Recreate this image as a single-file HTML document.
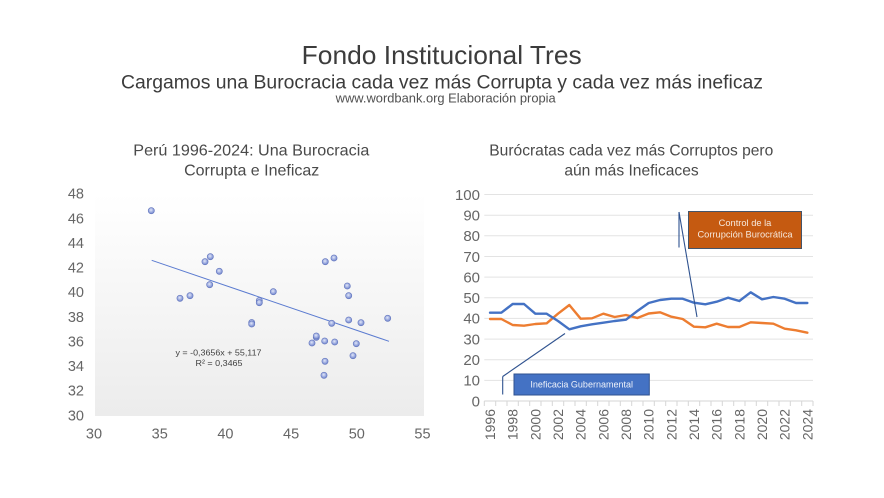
<!DOCTYPE html>
<html>
<head>
<meta charset="utf-8">
<style>
  html,body{margin:0;padding:0;background:#fff;}
  svg{display:block;}
  text{font-family:"Liberation Sans","DejaVu Sans",sans-serif;}
</style>
</head>
<body>
<svg width="884" height="498" viewBox="0 0 884 498" xmlns="http://www.w3.org/2000/svg">
  <defs>
    <linearGradient id="pa" x1="0" y1="0" x2="0" y2="1">
      <stop offset="0" stop-color="#ffffff"/>
      <stop offset="1" stop-color="#ececec"/>
    </linearGradient>
    <radialGradient id="mk" cx="0.45" cy="0.4" r="0.6">
      <stop offset="0" stop-color="#e3e8f8"/>
      <stop offset="0.6" stop-color="#9aa9df"/>
      <stop offset="1" stop-color="#6f84cb"/>
    </radialGradient>
  </defs>
  <rect x="0" y="0" width="884" height="498" fill="#ffffff"/>

  <!-- Titles -->
  <text x="441.7" y="64" font-size="26" fill="#3c3c3c" text-anchor="middle" textLength="280" lengthAdjust="spacingAndGlyphs">Fondo Institucional Tres</text>
  <text x="442" y="88.5" font-size="19" fill="#3c3c3c" text-anchor="middle" textLength="642" lengthAdjust="spacingAndGlyphs">Cargamos una Burocracia cada vez más Corrupta y cada vez más ineficaz</text>
  <text x="445.7" y="102.5" font-size="12.5" fill="#505050" text-anchor="middle" textLength="220" lengthAdjust="spacingAndGlyphs">www.wordbank.org Elaboración propia</text>

  <!-- LEFT CHART -->
  <text x="251.3" y="155.5" font-size="16" fill="#4a4a4a" text-anchor="middle" textLength="236" lengthAdjust="spacingAndGlyphs">Perú 1996-2024: Una Burocracia</text>
  <text x="251.7" y="175.5" font-size="16" fill="#4a4a4a" text-anchor="middle">Corrupta e Ineficaz</text>

  <rect x="95" y="194" width="329" height="222" fill="url(#pa)"/>

  <g font-size="14.5" fill="#666666" text-anchor="end">
    <text x="84" y="198.7">48</text>
    <text x="84" y="223.3">46</text>
    <text x="84" y="247.9">44</text>
    <text x="84" y="272.6">42</text>
    <text x="84" y="297.2">40</text>
    <text x="84" y="321.8">38</text>
    <text x="84" y="346.4">36</text>
    <text x="84" y="371.1">34</text>
    <text x="84" y="395.7">32</text>
    <text x="84" y="420.3">30</text>
  </g>
  <g font-size="14.5" fill="#666666" text-anchor="middle">
    <text x="94" y="438.5">30</text>
    <text x="159.7" y="438.5">35</text>
    <text x="225.4" y="438.5">40</text>
    <text x="291.1" y="438.5">45</text>
    <text x="356.8" y="438.5">50</text>
    <text x="422.5" y="438.5">55</text>
  </g>

  <!-- trendline -->
  <line x1="151.7" y1="260.3" x2="389" y2="341.3" stroke="#5b7bd0" stroke-width="1"/>

  <!-- scatter points -->
  <g fill="url(#mk)" stroke="#6477be" stroke-width="0.6">
    <circle cx="151.3" cy="210.7" r="3.1"/>
    <circle cx="180" cy="298.3" r="3.1"/>
    <circle cx="190" cy="295.7" r="3.1"/>
    <circle cx="205" cy="261.7" r="3.1"/>
    <circle cx="210.3" cy="256.7" r="3.1"/>
    <circle cx="209.7" cy="284.7" r="3.1"/>
    <circle cx="219.3" cy="271.3" r="3.1"/>
    <circle cx="251.7" cy="322.5" r="3.1"/>
    <circle cx="251.7" cy="324" r="3.1"/>
    <circle cx="259.3" cy="300.5" r="3.1"/>
    <circle cx="259.3" cy="302.7" r="3.1"/>
    <circle cx="273.3" cy="291.7" r="3.1"/>
    <circle cx="312" cy="343" r="3.1"/>
    <circle cx="316.3" cy="337.3" r="3.1"/>
    <circle cx="316.3" cy="336" r="3.1"/>
    <circle cx="324.7" cy="341" r="3.1"/>
    <circle cx="325" cy="361.3" r="3.1"/>
    <circle cx="324" cy="375.3" r="3.1"/>
    <circle cx="325.3" cy="261.7" r="3.1"/>
    <circle cx="334" cy="258" r="3.1"/>
    <circle cx="331.7" cy="323.3" r="3.1"/>
    <circle cx="334.7" cy="342" r="3.1"/>
    <circle cx="347.3" cy="286" r="3.1"/>
    <circle cx="348.7" cy="295.7" r="3.1"/>
    <circle cx="348.7" cy="320" r="3.1"/>
    <circle cx="353" cy="355.7" r="3.1"/>
    <circle cx="356.3" cy="343.7" r="3.1"/>
    <circle cx="361" cy="322.7" r="3.1"/>
    <circle cx="387.7" cy="318.3" r="3.1"/>
  </g>

  <text x="218.5" y="355.7" font-size="8.5" fill="#404040" text-anchor="middle" textLength="86" lengthAdjust="spacingAndGlyphs">y = -0,3656x + 55,117</text>
  <text x="219" y="366" font-size="8.5" fill="#404040" text-anchor="middle" textLength="47" lengthAdjust="spacingAndGlyphs">R² = 0,3465</text>

  <!-- RIGHT CHART -->
  <text x="631.3" y="155.5" font-size="15.6" fill="#4a4a4a" text-anchor="middle" textLength="284" lengthAdjust="spacingAndGlyphs">Burócratas cada vez más Corruptos pero</text>
  <text x="631.5" y="175.5" font-size="15.6" fill="#4a4a4a" text-anchor="middle">aún más Ineficaces</text>

  <!-- gridlines -->
  <g stroke="#e3e3e3" stroke-width="1">
    <line x1="484.3" y1="194.5" x2="813" y2="194.5"/>
    <line x1="484.3" y1="215.2" x2="813" y2="215.2"/>
    <line x1="484.3" y1="235.8" x2="813" y2="235.8"/>
    <line x1="484.3" y1="256.5" x2="813" y2="256.5"/>
    <line x1="484.3" y1="277.1" x2="813" y2="277.1"/>
    <line x1="484.3" y1="297.8" x2="813" y2="297.8"/>
    <line x1="484.3" y1="318.4" x2="813" y2="318.4"/>
    <line x1="484.3" y1="339.1" x2="813" y2="339.1"/>
    <line x1="484.3" y1="359.7" x2="813" y2="359.7"/>
    <line x1="484.3" y1="380.4" x2="813" y2="380.4"/>
  </g>
  <line x1="484.3" y1="401" x2="813" y2="401" stroke="#d6d6d6" stroke-width="1"/>
  <g stroke="#d6d6d6" stroke-width="1">
    <line x1="484.3" y1="401" x2="484.3" y2="406"/>
    <line x1="495.7" y1="401" x2="495.7" y2="406"/>
    <line x1="507" y1="401" x2="507" y2="406"/>
    <line x1="518.3" y1="401" x2="518.3" y2="406"/>
    <line x1="529.7" y1="401" x2="529.7" y2="406"/>
    <line x1="541" y1="401" x2="541" y2="406"/>
    <line x1="552.3" y1="401" x2="552.3" y2="406"/>
    <line x1="563.7" y1="401" x2="563.7" y2="406"/>
    <line x1="575" y1="401" x2="575" y2="406"/>
    <line x1="586.3" y1="401" x2="586.3" y2="406"/>
    <line x1="597.7" y1="401" x2="597.7" y2="406"/>
    <line x1="609" y1="401" x2="609" y2="406"/>
    <line x1="620.3" y1="401" x2="620.3" y2="406"/>
    <line x1="631.7" y1="401" x2="631.7" y2="406"/>
    <line x1="643" y1="401" x2="643" y2="406"/>
    <line x1="654.3" y1="401" x2="654.3" y2="406"/>
    <line x1="665.7" y1="401" x2="665.7" y2="406"/>
    <line x1="677" y1="401" x2="677" y2="406"/>
    <line x1="688.3" y1="401" x2="688.3" y2="406"/>
    <line x1="699.7" y1="401" x2="699.7" y2="406"/>
    <line x1="711" y1="401" x2="711" y2="406"/>
    <line x1="722.3" y1="401" x2="722.3" y2="406"/>
    <line x1="733.7" y1="401" x2="733.7" y2="406"/>
    <line x1="745" y1="401" x2="745" y2="406"/>
    <line x1="756.3" y1="401" x2="756.3" y2="406"/>
    <line x1="767.7" y1="401" x2="767.7" y2="406"/>
    <line x1="779" y1="401" x2="779" y2="406"/>
    <line x1="790.3" y1="401" x2="790.3" y2="406"/>
    <line x1="801.7" y1="401" x2="801.7" y2="406"/>
    <line x1="813" y1="401" x2="813" y2="406"/>
  </g>

  <g font-size="15" fill="#666666" text-anchor="end">
    <text x="480" y="199.8">100</text>
    <text x="480" y="220.5">90</text>
    <text x="480" y="241.1">80</text>
    <text x="480" y="261.8">70</text>
    <text x="480" y="282.4">60</text>
    <text x="480" y="303.1">50</text>
    <text x="480" y="323.7">40</text>
    <text x="480" y="344.4">30</text>
    <text x="480" y="365">20</text>
    <text x="480" y="385.7">10</text>
    <text x="480" y="406.3">0</text>
  </g>

  <g font-size="14" fill="#666666" text-anchor="end">
    <text transform="translate(495,409) rotate(-90)">1996</text>
    <text transform="translate(517.7,409) rotate(-90)">1998</text>
    <text transform="translate(540.3,409) rotate(-90)">2000</text>
    <text transform="translate(563,409) rotate(-90)">2002</text>
    <text transform="translate(585.7,409) rotate(-90)">2004</text>
    <text transform="translate(608.3,409) rotate(-90)">2006</text>
    <text transform="translate(631,409) rotate(-90)">2008</text>
    <text transform="translate(653.7,409) rotate(-90)">2010</text>
    <text transform="translate(676.3,409) rotate(-90)">2012</text>
    <text transform="translate(699,409) rotate(-90)">2014</text>
    <text transform="translate(721.7,409) rotate(-90)">2016</text>
    <text transform="translate(744.3,409) rotate(-90)">2018</text>
    <text transform="translate(767,409) rotate(-90)">2020</text>
    <text transform="translate(789.7,409) rotate(-90)">2022</text>
    <text transform="translate(812.3,409) rotate(-90)">2024</text>
  </g>

  <!-- orange series -->
  <polyline fill="none" stroke="#ed7d31" stroke-width="2.4" stroke-linejoin="round" stroke-linecap="round"
    points="490,319 501.33,319 512.67,325 524,325.7 535.33,324 546.67,323.3 558,313.7 569.33,305 580.67,318.7 592,318.3 603.33,313.7 614.67,317 626,315 637.33,318 648.67,313.5 660,312.3 671.33,316.7 682.67,319 694,326.7 705.33,327.3 716.67,323.7 728,327 739.33,327 750.67,322.3 762,323 773.33,323.7 784.67,328.7 796,330.3 807.33,332.7"/>
  <!-- blue series -->
  <polyline fill="none" stroke="#4472c4" stroke-width="2.4" stroke-linejoin="round" stroke-linecap="round"
    points="490,312.7 501.33,312.7 512.67,304 524,304 535.33,313.7 546.67,313.7 558,321 569.33,329.3 580.67,326.3 592,324.3 603.33,322.7 614.67,321 626,319.7 637.33,311 648.67,303 660,300 671.33,298.7 682.67,298.7 694,302.7 705.33,304.3 716.67,301.7 728,297.7 739.33,301 750.67,292.3 762,299.3 773.33,297 784.67,298.7 796,303 807.33,303"/>

  <!-- callouts -->
  <g stroke="#2f528f" stroke-width="1.1" fill="none">
    <line x1="679" y1="212" x2="679" y2="247.5"/>
    <line x1="679" y1="212" x2="697" y2="317"/>
    <line x1="502.7" y1="376.5" x2="502.7" y2="394.5"/>
    <line x1="502.7" y1="376.5" x2="565" y2="333.5"/>
  </g>
  <rect x="688.5" y="211.5" width="113" height="37" fill="#c55a11" stroke="#44546a" stroke-width="1"/>
  <text x="745" y="226" font-size="9.3" fill="#f6e8dc" text-anchor="middle">Control de la</text>
  <text x="745" y="237.5" font-size="9.3" fill="#f6e8dc" text-anchor="middle">Corrupción Burocrática</text>

  <rect x="514" y="374" width="135.3" height="21" fill="#4472c4" stroke="#2f528f" stroke-width="1"/>
  <text x="581.7" y="387.5" font-size="9" fill="#eef2fa" text-anchor="middle">Ineficacia Gubernamental</text>
</svg>
</body>
</html>
